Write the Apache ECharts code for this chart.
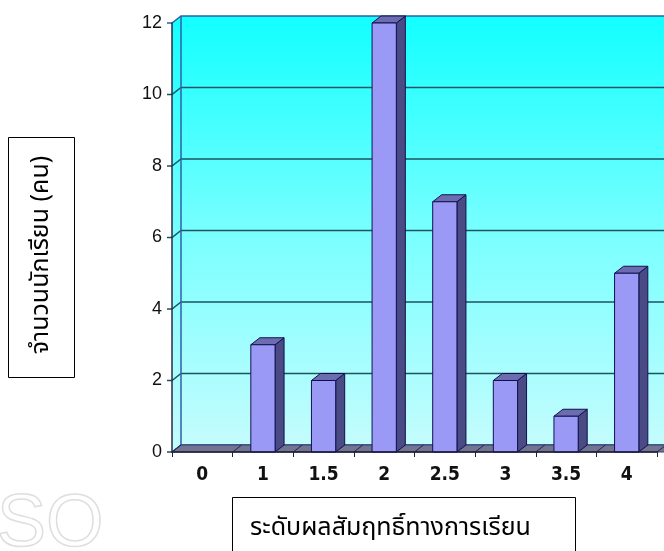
<!DOCTYPE html>
<html>
<head>
<meta charset="utf-8">
<script src="https://cdn.jsdelivr.net/npm/echarts@6/dist/echarts.min.js"></script>
<style>
  html, body { margin: 0; padding: 0; background: #ffffff; }
  #chart { width: 664px; height: 551px; }
</style>
</head>
<body>
<div id="chart"></div>
<script>
// Grade levels and number of students at each level
const categories = ['0', '1', '1.5', '2', '2.5', '3', '3.5', '4'];
const students = [0, 3, 2, 12, 7, 2, 1, 5];
const yTicks = [0, 2, 4, 6, 8, 10, 12];

const yTitle = 'จำนวนนักเรียน (คน)';
const xTitle = 'ระดับผลสัมฤทธิ์ทางการเรียน';

// depth offset of the pseudo-3D look
const DX = 9, DY = -7;
const thaiFont = "'Noto Sans Thai', 'Noto Sans Thai Looped', 'Noto Sans', 'DejaVu Sans', sans-serif";

const chart = echarts.init(document.getElementById('chart'), null, { renderer: 'canvas' });

function wallItem(params, api) {
  const cs = params.coordSys;
  const x0 = cs.x, x1 = cs.x + cs.width;
  const y0 = api.coord([0, 0])[1];
  const yMax = api.coord([0, yTicks[yTicks.length - 1]])[1];
  const bw = api.size([1, 0])[0];
  const wallFill = new echarts.graphic.LinearGradient(0, 0, 0, 1, [
    { offset: 0, color: '#12ffff' },
    { offset: 0.5, color: '#78ffff' },
    { offset: 1, color: '#c4fcfd' }
  ]);
  const children = [];
  // back wall
  children.push({
    type: 'rect',
    shape: { x: x0 + DX, y: yMax + DY, width: x1 - x0, height: y0 - yMax },
    style: { fill: wallFill }
  });
  // left side wall
  children.push({
    type: 'polygon',
    shape: { points: [[x0, y0], [x0, yMax], [x0 + DX, yMax + DY], [x0 + DX, y0 + DY]] },
    style: { fill: wallFill }
  });
  // gridlines across side wall and back wall, with short ticks left of the axis
  yTicks.forEach(function (v) {
    const y = api.coord([0, v])[1];
    children.push({
      type: 'polyline',
      shape: { points: [[x0 - 5, y], [x0, y], [x0 + DX, y + DY], [x1 + DX + 20, y + DY]] },
      style: { stroke: v === yTicks[yTicks.length - 1] ? '#2f5fa8' : '#1c5460', lineWidth: 1.5, fill: null }
    });
  });
  // back wall left edge
  children.push({
    type: 'line',
    shape: { x1: x0 + DX, y1: y0 + DY, x2: x0 + DX, y2: yMax + DY },
    style: { stroke: '#2f5fa8', lineWidth: 1.5 }
  });
  // floor
  children.push({
    type: 'polygon',
    shape: { points: [[x0, y0], [x1 + 20, y0], [x1 + DX + 20, y0 + DY], [x0 + DX, y0 + DY]] },
    style: { fill: '#74748c', stroke: '#2a3f8a', lineWidth: 1 }
  });
  // floor division lines at category boundaries
  for (let i = 0; i <= categories.length; i++) {
    const xb = x0 + i * bw;
    children.push({
      type: 'line',
      shape: { x1: xb, y1: y0, x2: xb + DX, y2: y0 + DY },
      style: { stroke: '#24245a', lineWidth: 1 }
    });
  }
  return { type: 'group', children: children };
}

function barItem(params, api) {
  const v = api.value(1);
  if (!v) return null;
  const idx = api.value(0);
  const top = api.coord([idx, v]);
  const base = api.coord([idx, 0]);
  const bw = api.size([1, 0])[0];
  const w = bw * 0.4;
  const l = top[0] - w / 2, r = top[0] + w / 2;
  const ty = top[1], by = base[1];
  const edge = '#101050';
  return {
    type: 'group',
    children: [
      {
        type: 'polygon',
        shape: { points: [[r, ty], [r + DX, ty + DY], [r + DX, by + DY], [r, by]] },
        style: { fill: '#4a4a84', stroke: edge, lineWidth: 1 }
      },
      {
        type: 'polygon',
        shape: { points: [[l, ty], [l + DX, ty + DY], [r + DX, ty + DY], [r, ty]] },
        style: { fill: '#6c6cb0', stroke: edge, lineWidth: 1 }
      },
      {
        type: 'rect',
        shape: { x: l, y: ty, width: w, height: by - ty },
        style: { fill: '#9a9af6', stroke: edge, lineWidth: 1 }
      }
    ]
  };
}

chart.setOption({
  backgroundColor: '#ffffff',
  animation: false,
  grid: { left: 172, right: 7, top: 23, bottom: 99, containLabel: false },
  xAxis: {
    type: 'category',
    data: categories,
    boundaryGap: true,
    axisLine: { show: true, lineStyle: { color: '#1a1a3a', width: 1.5 } },
    axisTick: { show: true, length: 5, lineStyle: { color: '#222' } },
    axisLabel: {
      margin: 14,
      color: '#111',
      fontSize: 19,
      fontWeight: 'bold',
      fontFamily: "'Liberation Sans Narrow', 'Arial Narrow', 'DejaVu Sans Condensed', 'Liberation Sans', sans-serif"
    },
    splitLine: { show: false },
    z: 5
  },
  yAxis: {
    type: 'value',
    min: 0,
    max: 12,
    interval: 2,
    axisLine: { show: true, lineStyle: { color: '#2a2a4a', width: 1.5 } },
    axisTick: { show: false },
    axisLabel: {
      margin: 10,
      color: '#111',
      fontSize: 18,
      fontFamily: "'Liberation Sans', Arial, sans-serif",
      formatter: function (v) { return yTicks.indexOf(v) >= 0 ? String(v) : ''; }
    },
    splitLine: { show: false },
    z: 5
  },
  series: [
    {
      type: 'custom',
      name: 'walls',
      renderItem: wallItem,
      data: [[0, 0]],
      silent: true,
      z: 1,
      clip: false
    },
    {
      type: 'custom',
      name: 'นักเรียน',
      renderItem: barItem,
      encode: { x: 0, y: 1 },
      data: students.map(function (v, i) { return [i, v]; }),
      z: 3,
      clip: false
    }
  ],
  graphic: [
    {
      type: 'text',
      left: -4,
      top: 488,
      z: 0,
      style: { text: 'SO', fontSize: 74, fontFamily: "'Liberation Sans', sans-serif", fill: null, stroke: '#dedede', lineWidth: 1.5 }
    },
    {
      type: 'rect',
      shape: { x: 8.5, y: 137.5, width: 66, height: 240 },
      style: { fill: '#ffffff', stroke: '#000', lineWidth: 1 }
    },
    {
      type: 'text',
      x: 43,
      y: 255,
      rotation: Math.PI / 2,
      style: { text: yTitle, fontSize: 25, fontFamily: thaiFont, fill: '#000', align: 'center', verticalAlign: 'middle' }
    },
    {
      type: 'rect',
      shape: { x: 232.5, y: 497.5, width: 343, height: 80 },
      style: { fill: '#ffffff', stroke: '#000', lineWidth: 1 }
    },
    {
      type: 'text',
      x: 250,
      y: 530,
      style: { text: xTitle, fontSize: 25, fontFamily: thaiFont, fill: '#000', align: 'left', verticalAlign: 'middle' }
    }
  ]
});
</script>
</body>
</html>
